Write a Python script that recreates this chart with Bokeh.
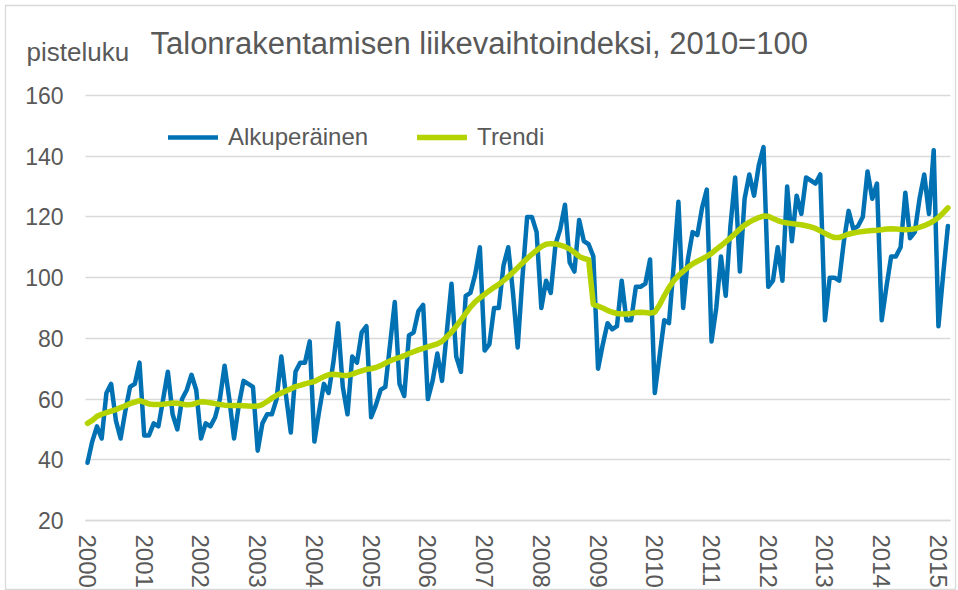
import numpy as np
import pandas as pd
from bokeh.plotting import figure
from bokeh.models import Range1d, FixedTicker, Legend, LegendItem, Label, Grid
from bokeh.embed import file_html
from bokeh.resources import INLINE

# ---------------- data (monthly, Jan 2000 - Mar 2015) ----------------
start_month = "2000-01-01"

alkuperainen = [
    39, 46, 51, 47, 62, 65, 53, 47, 56, 64, 65, 72,          # 2000
    48, 48, 52, 51, 60, 69, 55, 50, 60, 63, 68, 63,          # 2001
    47, 52, 51, 54, 60, 71, 60, 47, 58, 66, 65, 64,          # 2002
    43, 52, 55, 55, 60, 74, 61, 49, 69, 72, 72, 79,          # 2003
    46, 56, 65, 62, 72, 85, 64, 55, 74, 72, 82, 84,          # 2004
    54, 58, 63, 64, 78, 92, 65, 61, 81, 82, 89, 91,          # 2005
    60, 66, 75, 66, 82, 98, 74, 69, 94, 95, 101, 110,        # 2006
    76, 78, 90, 90, 104, 110, 95, 77, 100, 120, 120, 115,    # 2007
    90, 99, 95, 111, 116, 124, 105, 102, 119, 112, 111, 107, # 2008
    70, 78, 85, 83, 84, 99, 86, 86, 97, 97, 98, 106,         # 2009
    62, 74, 86, 85, 104, 125, 90, 106, 115, 114, 123, 129,   # 2010
    79, 90, 107, 94, 117, 133, 102, 126, 134, 127, 137, 143, # 2011
    97, 99, 110, 99, 130, 112, 127, 121, 133, 132, 131, 134, # 2012
    86, 100, 100, 99, 112, 122, 116, 117, 120, 135, 126, 131,# 2013
    86, 97, 107, 107, 110, 128, 113, 115, 126, 134, 121, 142,# 2014
    84, 101, 117,                                            # 2015
]

trendi = [
    52, 53, 54.3, 55, 55.5, 56, 56.5, 57.2, 57.8, 58.5, 59, 59.5,                  # 2000
    59, 58.4, 58.2, 58.2, 58.3, 58.5, 58.7, 58.6, 58.4, 58.1, 58.2, 58.7,          # 2001
    59.1, 59, 58.8, 58.5, 58.2, 58, 57.9, 57.9, 57.9, 57.8, 57.7, 57.6,            # 2002
    57.7, 58.2, 59.2, 60.3, 61.2, 62, 62.7, 63.4, 64.1, 64.5, 65, 65.4,            # 2003
    65.8, 66.6, 67.4, 68, 68.2, 68, 67.8, 67.8, 68.2, 68.8, 69.3, 69.8,            # 2004
    70, 70.4, 71, 71.8, 72.6, 73.2, 73.7, 74.3, 75, 75.6, 76.2, 76.7,              # 2005
    77.2, 77.7, 78.2, 79, 80.5, 82, 84, 86, 88.2, 90.3, 92, 93.3,                  # 2006
    94.5, 95.7, 96.8, 97.8, 99, 100.3, 101.8, 103.3, 104.8, 106.3, 107.7, 109,     # 2007
    110.2, 111, 111.2, 111.1, 110.7, 110.2, 109.4, 108.3, 107, 106.3, 105.9, 91.2, # 2008
    90.6, 90, 89.2, 88.6, 88.2, 88, 88, 88.2, 88.5, 88.6, 88.5, 88.3,              # 2009
    88.6, 91, 94, 96.7, 99, 100.7, 102.1, 103.4, 104.5, 105.4, 106.2, 107,         # 2010
    108, 109.3, 110.5, 111.8, 113.1, 114.5, 116, 117.3, 118.3, 119.1, 119.8, 120.3,# 2011
    120.2, 119.5, 118.8, 118.3, 118, 117.8, 117.6, 117.4, 117.1, 116.7, 116.2, 115.4, # 2012
    114.6, 113.8, 113.2, 113.2, 113.8, 114.3, 114.7, 115, 115.2, 115.4, 115.5, 115.6, # 2013
    115.8, 116, 116.1, 116, 115.9, 115.8, 115.9, 116.1, 116.6, 117.1, 117.8, 118.7,   # 2014
    119.8, 121.3, 123,                                                              # 2015
]

year_ticks = list(range(2000, 2016))
year_labels = [str(y) for y in year_ticks]
y_ticks = [20, 40, 60, 80, 100, 120, 140, 160]

title_text = "Talonrakentamisen liikevaihtoindeksi, 2010=100"
unit_text = "pisteluku"
series_names = ["Alkuperäinen", "Trendi"]

# ---------------- styling ----------------
FONT = "Liberation Sans"
TXT = "#595959"
GRID = "#d9d9d9"
BLUE = "#0071B3"
GREEN = "#B5D300"

dates = pd.date_range(start_month, periods=len(alkuperainen), freq="MS")
x = np.asarray(dates.year + (dates.month - 1) / 12.0, dtype=float)

# plotting area: x 1999.9647..2015.2127 -> 85..950 px, y 20..160 -> 520..95 px
X0, X1 = 1999.9647, 2015.2127
PX_PER_YEAR = 865.0 / (X1 - X0)
PX_PER_UNIT = 425.0 / 140.0

# The Bokeh frame covers the whole chart box (5..955 px wide, 5..590 px high);
# axes are pinned inside it, so nothing (headings, tick labels) gets clipped.
p = figure(
    width=958, height=590,
    output_backend="svg", toolbar_location=None,
    x_range=Range1d(X0 - 80.0 / PX_PER_YEAR, X1 + 5.0 / PX_PER_YEAR),
    y_range=Range1d(20 - 70.0 / PX_PER_UNIT, 160 + 90.0 / PX_PER_UNIT),
    min_border_left=5, min_border_right=3,
    min_border_top=5, min_border_bottom=0,
)
p.outline_line_color = GRID
p.outline_line_width = 1.3
p.background_fill_color = "white"
p.border_fill_color = "white"

p.xgrid.visible = False
yg = p.ygrid[0]
yg.grid_line_color = GRID
yg.grid_line_width = 1.3
yg.ticker = FixedTicker(ticks=y_ticks)
if "cross_bounds" in Grid.properties():
    yg.cross_bounds = (X0, X1)

xa = p.xaxis[0]
xa.fixed_location = 20
xa.ticker = FixedTicker(ticks=year_ticks)
xa.bounds = (X0, X1)
xa.major_label_overrides = {t: l for t, l in zip(year_ticks, year_labels)}
xa.major_label_orientation = -np.pi / 2
xa.major_label_text_font = FONT
xa.major_label_text_font_size = "24px"
xa.major_label_text_color = TXT
xa.major_label_standoff = 14
xa.axis_line_color = GRID
xa.axis_line_width = 1.3
xa.major_tick_line_color = None
xa.minor_tick_line_color = None
xa.major_tick_out = 0
xa.major_tick_in = 0

ya = p.yaxis[0]
ya.fixed_location = X0
ya.ticker = FixedTicker(ticks=y_ticks)
ya.major_label_text_font = FONT
ya.major_label_text_font_size = "23px"
ya.major_label_text_color = TXT
ya.major_label_standoff = 22
ya.axis_line_color = None
ya.major_tick_line_color = None
ya.minor_tick_line_color = None
ya.major_tick_out = 0
ya.major_tick_in = 0

r1 = p.line(x, alkuperainen, line_color=BLUE, line_width=4.5,
            line_join="round", line_cap="round")
r2 = p.line(x, trendi, line_color=GREEN, line_width=5.5,
            line_join="round", line_cap="round")

legend = Legend(
    items=[LegendItem(label=series_names[0], renderers=[r1]),
           LegendItem(label=series_names[1], renderers=[r2])],
    location=(163, 439), orientation="horizontal",
    background_fill_alpha=0, border_line_color=None,
    padding=0, margin=0, spacing=49,
    glyph_width=50, glyph_height=24, label_standoff=10, label_height=24,
    label_text_font=FONT, label_text_font_size="24px", label_text_color=TXT,
)
p.add_layout(legend)

p.add_layout(Label(x=145, y=547, x_units="screen", y_units="screen",
                   text=title_text, text_font=FONT, text_font_size="31px",
                   text_color=TXT, text_baseline="alphabetic"))
p.add_layout(Label(x=21, y=539, x_units="screen", y_units="screen",
                   text=unit_text, text_font=FONT, text_font_size="26px",
                   text_color=TXT, text_baseline="alphabetic"))

open("out.html", "w").write(file_html(p, INLINE))
